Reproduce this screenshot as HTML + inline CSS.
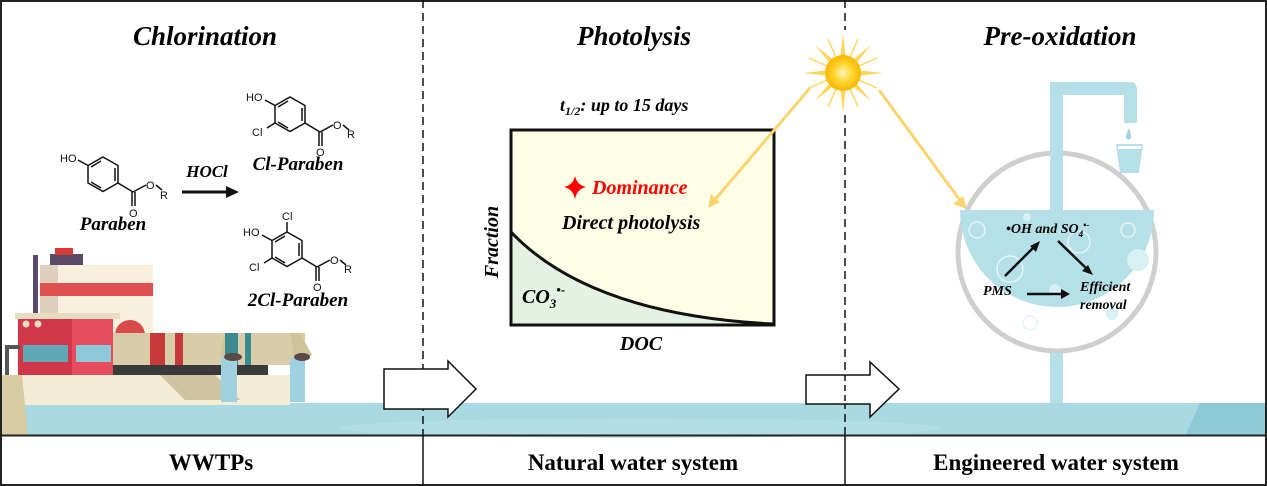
<!DOCTYPE html>
<html><head><meta charset="utf-8"><style>
html,body{margin:0;padding:0;background:#fff}
svg{display:block}
text{font-family:"Liberation Serif",serif}
.t{font-weight:bold;font-style:italic}
.c text{font-family:"Liberation Sans",sans-serif;font-size:11px}
</style></head><body>
<svg width="1267" height="486" viewBox="0 0 1267 486" xmlns="http://www.w3.org/2000/svg">
<rect x="0" y="0" width="1267" height="486" fill="#fff"/>
<rect x="0" y="403" width="1267" height="33" fill="#a9d9e3"/>
<ellipse cx="640" cy="428" rx="300" ry="10" fill="#b7e1ea" opacity="0.6"/>
<path d="M1200 403 L1267 403 L1267 436 L1185 436 Z" fill="#8ccad6"/>
<path d="M0 375 L290 375 L290 405 L0 405 Z" fill="#f4ecd4"/>
<path d="M0 375 L22 375 L28 436 L0 436 Z" fill="#d6cba2"/>
<path d="M160 375 L215 375 L240 400 L185 400 Z" fill="#cfc3a0"/>
<rect x="33" y="255" width="5" height="62" fill="#5a4a6a"/>
<rect x="40" y="265" width="113" height="82" fill="#f8f0dc"/>
<rect x="40" y="265" width="18" height="82" fill="#ddd0bc"/>
<rect x="40" y="283" width="113" height="13" fill="#e05050"/>
<rect x="50" y="254" width="33" height="11" fill="#5a4a6a"/>
<rect x="55" y="248" width="18" height="7" fill="#d83a3a"/>
<circle cx="130" cy="335" r="15" fill="#d94a4a"/>
<rect x="15" y="313" width="105" height="6" fill="#e8dcc0"/>
<rect x="18" y="319" width="95" height="56" fill="#d0384a"/>
<rect x="72" y="319" width="41" height="56" fill="#e74c5e"/>
<rect x="23" y="345" width="45" height="17" fill="#5fa8b8"/>
<rect x="76" y="345" width="35" height="17" fill="#8fc8d8"/>
<circle cx="26" cy="324" r="3.5" fill="#e8dcc0"/><circle cx="38" cy="324" r="3.5" fill="#e8dcc0"/>
<rect x="5" y="345" width="15" height="4" fill="#555"/>
<rect x="5" y="345" width="4" height="30" fill="#555"/>
<rect x="113" y="365" width="155" height="10" fill="#3a3a3a"/>
<rect x="113" y="333" width="125" height="32" fill="#d8cda8"/>
<rect x="150" y="333" width="15" height="32" fill="#c83a3a"/>
<rect x="175" y="333" width="8" height="32" fill="#c83a3a"/>
<path d="M225 333 L232 333 L245 355 L230 365 L220 355 Z" fill="#cfc39c"/>
<rect x="225" y="333" width="80" height="32" fill="#d8cda8"/>
<rect x="225" y="333" width="13" height="32" fill="#3a8a90"/>
<rect x="245" y="333" width="6" height="32" fill="#3a8a90"/>
<path d="M290 333 L300 333 L312 355 L296 365 Z" fill="#cfc39c"/>
<rect x="221" y="358" width="16" height="44" fill="#9fd2e0"/>
<rect x="290" y="358" width="15" height="44" fill="#9fd2e0"/>
<ellipse cx="233" cy="357" rx="9" ry="4" fill="#5a4a4a"/>
<ellipse cx="302" cy="357" rx="8" ry="4" fill="#5a4a4a"/>
<rect x="1" y="1" width="1265" height="484" fill="none" stroke="#222" stroke-width="2"/>
<line x1="0" y1="435.5" x2="1267" y2="435.5" stroke="#222" stroke-width="2"/>
<line x1="423" y1="0" x2="423" y2="435" stroke="#111" stroke-width="1.5" stroke-dasharray="8,5"/>
<line x1="845" y1="115" x2="845" y2="435" stroke="#111" stroke-width="1.5" stroke-dasharray="8,5"/>
<line x1="845" y1="0" x2="845" y2="30" stroke="#111" stroke-width="1.5" stroke-dasharray="8,5"/>
<line x1="423" y1="435" x2="423" y2="486" stroke="#111" stroke-width="1.5"/>
<line x1="845" y1="435" x2="845" y2="486" stroke="#111" stroke-width="1.5"/>
<text class="t" x="205" y="45" font-size="27" text-anchor="middle">Chlorination</text>
<text class="t" x="634" y="45" font-size="27" text-anchor="middle">Photolysis</text>
<text class="t" x="1060" y="45" font-size="27" text-anchor="middle">Pre-oxidation</text>
<text x="211" y="470" font-size="23" font-weight="bold" text-anchor="middle">WWTPs</text>
<text x="633" y="470" font-size="23" font-weight="bold" text-anchor="middle">Natural water system</text>
<text x="1056" y="470" font-size="23" font-weight="bold" text-anchor="middle">Engineered water system</text>
<g fill="none" stroke="#111" stroke-width="1.5">
 <polygon points="103,157 118,165.5 118,183 103,191.5 88,183 88,165.5"/>
 <line x1="115" y1="168" x2="115" y2="181"/><line x1="101" y1="161" x2="91" y2="167"/><line x1="101" y1="188" x2="91" y2="182"/>
 <line x1="88" y1="165.5" x2="78" y2="160"/>
 <line x1="118" y1="183" x2="133" y2="192"/><line x1="133" y1="192" x2="146" y2="185"/><line x1="156" y1="185" x2="162" y2="190"/>
 <line x1="132" y1="192" x2="132" y2="206"/><line x1="135" y1="192" x2="135" y2="206"/>
 <polygon points="290,97 305,105.5 305,123 290,131.5 275,123 275,105.5"/>
 <line x1="302" y1="108" x2="302" y2="121"/><line x1="288" y1="101" x2="278" y2="107"/><line x1="288" y1="128" x2="278" y2="122"/>
 <line x1="275" y1="105.5" x2="265" y2="100"/><line x1="275" y1="123" x2="267" y2="128"/>
 <line x1="305" y1="123" x2="320" y2="132"/><line x1="320" y1="132" x2="333" y2="125"/><line x1="343" y1="125" x2="349" y2="130"/>
 <line x1="319" y1="132" x2="319" y2="146"/><line x1="322" y1="132" x2="322" y2="146"/>
 <polygon points="287,232 302,240.5 302,258 287,266.5 272,258 272,240.5"/>
 <line x1="299" y1="243" x2="299" y2="256"/><line x1="285" y1="236" x2="275" y2="242"/><line x1="285" y1="263" x2="275" y2="257"/>
 <line x1="287" y1="232" x2="287" y2="222"/><line x1="272" y1="240.5" x2="262" y2="235"/><line x1="272" y1="258" x2="264" y2="263"/>
 <line x1="302" y1="258" x2="317" y2="267"/><line x1="317" y1="267" x2="330" y2="260"/><line x1="340" y1="260" x2="346" y2="265"/>
 <line x1="316" y1="267" x2="316" y2="281"/><line x1="319" y1="267" x2="319" y2="281"/>
</g>
<g class="c" fill="#111">
 <text x="60" y="162">HO</text><text x="146" y="189">O</text><text x="160" y="199">R</text><text x="129" y="217">O</text>
 <text x="246" y="101">HO</text><text x="252" y="136">Cl</text><text x="333" y="129">O</text><text x="347" y="138">R</text><text x="316" y="156">O</text>
 <text x="282" y="220">Cl</text><text x="243" y="236">HO</text><text x="249" y="271">Cl</text><text x="330" y="264">O</text><text x="344" y="273">R</text><text x="313" y="291">O</text>
</g>
<text class="t" x="113" y="230" font-size="19" text-anchor="middle">Paraben</text>
<text class="t" x="207" y="177" font-size="17" text-anchor="middle">HOCl</text>
<line x1="182" y1="192" x2="228" y2="192" stroke="#111" stroke-width="3"/>
<polygon points="226,186 239,192 226,198" fill="#111"/>
<text class="t" x="298" y="170" font-size="19" text-anchor="middle">Cl-Paraben</text>
<text class="t" x="298" y="306" font-size="19" text-anchor="middle">2Cl-Paraben</text>
<polygon points="384,369 448,369 448,361 476,389 448,417 448,409 384,409" fill="#fff" stroke="#111" stroke-width="1.5"/>
<polygon points="806,375 870,375 870,362 899,389 870,417 870,404 806,404" fill="#fff" stroke="#111" stroke-width="1.5"/>
<line x1="845" y1="375" x2="845" y2="404" stroke="#111" stroke-width="1.5" stroke-dasharray="6,4"/>
<rect x="511" y="130" width="263" height="195" fill="#fefde6"/>
<path d="M511 232 Q590 315 774 324 L774 325 L511 325 Z" fill="#e3f2e3"/>
<path d="M511 232 Q590 315 774 324" fill="none" stroke="#111" stroke-width="3"/>
<rect x="511" y="130" width="263" height="195" fill="none" stroke="#111" stroke-width="3"/>
<text class="t" x="560" y="111" font-size="18">t<tspan font-size="12" dy="4">1/2</tspan><tspan dy="-4">: up to 15 days</tspan></text>
<path d="M575 176 Q577 185 586 187 Q577 189 575 199 Q573 189 564 187 Q573 185 575 176 Z" fill="#f00"/>
<text class="t" x="592" y="194" font-size="20" fill="#f00">Dominance</text>
<text class="t" x="562" y="229" font-size="20">Direct photolysis</text>
<text class="t" x="522" y="303" font-size="20">CO<tspan font-size="13" dy="5">3</tspan><tspan font-size="13" dy="-14">•-</tspan></text>
<text class="t" x="641" y="350" font-size="20" text-anchor="middle">DOC</text>
<text class="t" font-size="20" text-anchor="middle" transform="translate(498,242) rotate(-90)">Fraction</text>
<defs><radialGradient id="sg" cx="0.5" cy="0.5" r="0.5"><stop offset="0" stop-color="#fff6c0"/><stop offset="0.5" stop-color="#ffd530"/><stop offset="1" stop-color="#f6b800"/></radialGradient></defs>
<g fill="#ffd65a">
 <polygon points="843,33 846,60 840,60"/><polygon points="843,113 846,86 840,86"/>
 <polygon points="803,73 830,70 830,76"/><polygon points="883,73 856,70 856,76"/>
 <polygon points="815,45 836,62 832,66"/><polygon points="871,45 854,66 850,62"/>
 <polygon points="815,101 832,80 836,84"/><polygon points="871,101 850,84 854,80"/>
</g>
<g stroke="#ffd65a" stroke-width="1.5">
 <line x1="828" y1="39" x2="858" y2="107"/><line x1="858" y1="39" x2="828" y2="107"/>
 <line x1="809" y1="58" x2="877" y2="88"/><line x1="809" y1="88" x2="877" y2="58"/>
</g>
<circle cx="843" cy="73" r="18" fill="url(#sg)"/>
<g stroke="#fad46e" stroke-width="3">
 <line x1="810" y1="88" x2="713" y2="202"/><line x1="879" y1="90" x2="962" y2="203"/>
</g>
<polygon points="708,208 711,194 720,202" fill="#fad46e"/>
<polygon points="967,209 953,204 963,196" fill="#fad46e"/>
<path d="M1050 403 L1050 90 Q1050 82 1058 82 L1130 82 Q1137 82 1137 90 L1137 123 L1124 123 L1124 95 L1063 95 L1063 403 Z" fill="#b5e0e8"/>
<path d="M1129 128 Q1131 134 1131 137 A2.5 2.5 0 0 1 1126 137 Q1126 134 1129 128Z" fill="#9fd4e0"/>
<path d="M1116 144 L1143 144 L1139 173 L1120 173 Z" fill="#b5e0e8"/>
<rect x="1118" y="146" width="23" height="3" fill="#fff"/>
<circle cx="1057" cy="252" r="99" fill="#fff" stroke="#cfcfcf" stroke-width="5"/>
<path d="M960 210 L1154 210 A97 97 0 0 1 960 210 Z" fill="#b5e0e8"/>
<rect x="1050" y="82" width="13" height="128" fill="#b5e0e8"/>
<g fill="none" stroke="#e4f5f8" stroke-width="1.5">
 <circle cx="977" cy="230" r="8"/><circle cx="1128" cy="230" r="7"/><circle cx="1079" cy="242" r="11"/><circle cx="1010" cy="269" r="13"/><circle cx="1030" cy="323" r="7"/>
</g>
<g fill="#d6f0f3"><circle cx="1138" cy="260" r="11"/><circle cx="1027" cy="217" r="4"/><circle cx="1055" cy="290" r="6"/><circle cx="1112" cy="314" r="6"/></g>
<text class="t" x="1006" y="233" font-size="14">•OH and SO<tspan font-size="9" dy="4">4</tspan><tspan font-size="9" dy="-9">•-</tspan></text>
<text class="t" x="983" y="295" font-size="14">PMS</text>
<text class="t" x="1080" y="291" font-size="14">Efficient</text>
<text class="t" x="1080" y="309" font-size="14">removal</text>
<g stroke="#111" stroke-width="2.5">
 <line x1="1005" y1="276" x2="1035" y2="246"/><line x1="1058" y1="241" x2="1088" y2="270"/><line x1="1027" y1="294" x2="1063" y2="294"/>
</g>
<polygon points="1040,241 1036,252 1030,246" fill="#111"/>
<polygon points="1093,275 1082,271 1088,265" fill="#111"/>
<polygon points="1070,294 1061,289 1061,299" fill="#111"/>
</svg>
</body></html>
